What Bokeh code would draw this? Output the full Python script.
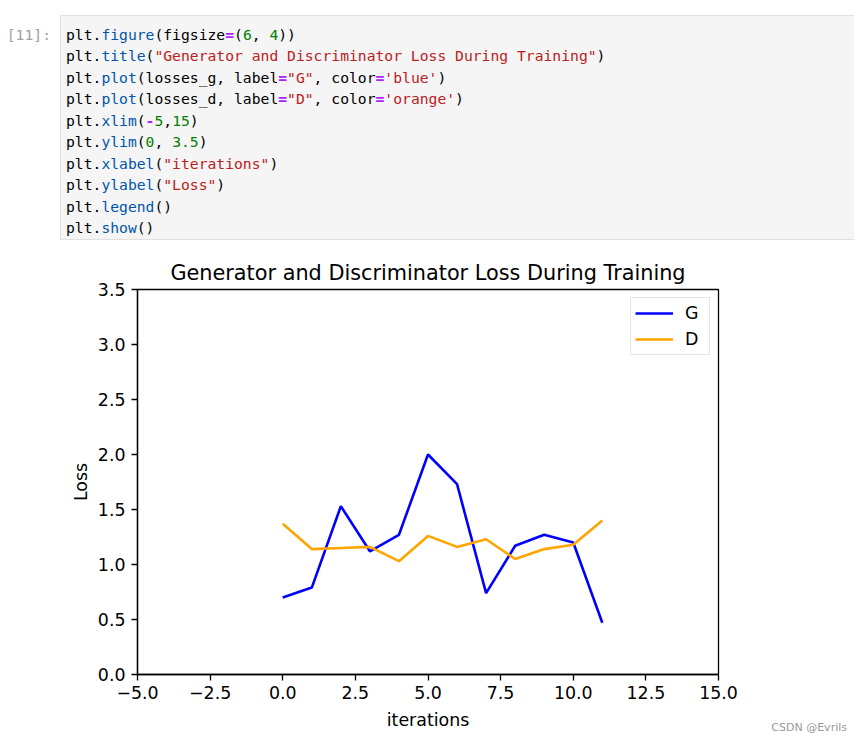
import re
import html
from bokeh.plotting import figure
from bokeh.models import Range1d, FixedTicker, Legend, LegendItem, Div
from bokeh.layouts import column
from bokeh.embed import file_html
from bokeh.resources import INLINE

# ---------------- data ----------------
iterations = [0, 1, 2, 3, 4, 5, 6, 7, 8, 9, 10, 11]
losses_g = [0.70, 0.79, 1.53, 1.12, 1.27, 2.00, 1.73, 0.74, 1.17, 1.27, 1.20, 0.47]
losses_d = [1.37, 1.14, 1.15, 1.16, 1.03, 1.26, 1.16, 1.23, 1.05, 1.14, 1.18, 1.40]

x_ticks = [-5.0, -2.5, 0.0, 2.5, 5.0, 7.5, 10.0, 12.5, 15.0]
x_tick_labels = ["\u22125.0", "\u22122.5", "0.0", "2.5", "5.0", "7.5", "10.0", "12.5", "15.0"]
y_ticks = [0.0, 0.5, 1.0, 1.5, 2.0, 2.5, 3.0, 3.5]
y_tick_labels = ["0.0", "0.5", "1.0", "1.5", "2.0", "2.5", "3.0", "3.5"]

code_lines = [
    'plt.figure(figsize=(6, 4))',
    'plt.title("Generator and Discriminator Loss During Training")',
    'plt.plot(losses_g, label="G", color=\'blue\')',
    'plt.plot(losses_d, label="D", color=\'orange\')',
    'plt.xlim(-5,15)',
    'plt.ylim(0, 3.5)',
    'plt.xlabel("iterations")',
    'plt.ylabel("Loss")',
    'plt.legend()',
    'plt.show()',
]
prompt = "[11]:"
title_text = "Generator and Discriminator Loss During Training"
watermark = "CSDN @Evrils"

W = 854
TOP_H = 250
BOT_H = 483
MONO = "DejaVu Sans Mono"
SANS = "DejaVu Sans"
LINE_H = 21.45

# ---------------- code cell (HTML) ----------------
tok_re = re.compile(r'"[^"]*"|\'[^\']*\'|\d+(?:\.\d+)?|[A-Za-z_]\w*|[=\-]|.')


def token_style(tok, prev):
    if tok[0] in "\"'":
        return "color:#ba2121"
    if tok[0].isdigit():
        return "color:#008000"
    if tok in ("=", "-"):
        return "color:#aa22ff;font-weight:bold"
    if (tok[0].isalpha() or tok[0] == "_") and prev == ".":
        return "color:#0055aa"
    return "color:#000000"


line_divs = []
for i, line in enumerate(code_lines):
    prev = ""
    groups = []  # merge consecutive tokens with same style
    for m in tok_re.finditer(line):
        tok = m.group(0)
        st = token_style(tok, prev)
        if tok == " " and groups:
            st = groups[-1][0]
        if groups and groups[-1][0] == st:
            groups[-1][1] += tok
        else:
            groups.append([st, tok])
        if tok != " ":
            prev = tok
    spans = "".join('<span style="%s">%s</span>' % (st, html.escape(t, quote=False))
                    for st, t in groups)
    line_divs.append('<div style="position:absolute;left:0px;top:%.2fpx;white-space:pre;'
                     'height:%.2fpx;">%s</div>' % (i * LINE_H, LINE_H, spans))

font_css = "font-family:'%s';font-size:14.7px;line-height:%.2fpx;" % (MONO, LINE_H)
cell_html = (
    '<div style="position:relative;width:%dpx;height:%dpx;">' % (W, TOP_H)
    + '<div style="position:absolute;left:60px;top:15px;width:%dpx;height:225px;'
      'background:#f5f5f5;border:1px solid #e0e0e0;border-right:none;"></div>' % (W - 60)
    + '<div style="position:absolute;left:0px;top:24px;width:51px;text-align:right;'
      'white-space:pre;color:#a0a0a0;%s">%s</div>' % (font_css, html.escape(prompt))
    + '<div style="position:absolute;left:66px;top:24px;width:700px;height:%dpx;%s">%s</div>'
      % (int(len(code_lines) * LINE_H) + 2, font_css, "".join(line_divs))
    + '</div>'
)
top = Div(text=cell_html, width=W, height=TOP_H, margin=(0, 0, 0, 0))

# ---------------- chart ----------------
p = figure(width=W, height=BOT_H, output_backend="svg", toolbar_location=None,
           x_range=Range1d(-5, 15), y_range=Range1d(0, 3.5),
           min_border_left=137, min_border_right=W - 718, min_border_top=39,
           min_border_bottom=59, title=title_text, margin=(0, 0, 0, 0))
p.grid.visible = False
p.outline_line_color = "black"
p.outline_line_width = 1.3

p.title.align = "center"
p.title.text_font = SANS
p.title.text_font_size = "20.8px"
p.title.text_font_style = "normal"
p.title.text_color = "#000000"
p.title.standoff = 10

for ax, ticks, labels in ((p.xaxis[0], x_ticks, x_tick_labels), (p.yaxis[0], y_ticks, y_tick_labels)):
    ax.ticker = FixedTicker(ticks=ticks)
    ax.major_label_overrides = {t: l for t, l in zip(ticks, labels)}
    ax.major_label_text_font = SANS
    ax.major_label_text_font_size = "17.4px"
    ax.major_label_text_color = "#000000"
    ax.axis_label_text_font = SANS
    ax.axis_label_text_font_size = "17.4px"
    ax.axis_label_text_font_style = "normal"
    ax.axis_label_text_color = "#000000"
    ax.axis_line_color = "black"
    ax.axis_line_width = 1.3
    ax.major_tick_line_color = "black"
    ax.major_tick_line_width = 1.3
    ax.major_tick_out = 6
    ax.major_tick_in = 0
    ax.minor_tick_line_color = None

p.xaxis.axis_label = "iterations"
p.yaxis.axis_label = "Loss"
p.xaxis.major_label_standoff = 5
p.yaxis.major_label_standoff = 6
p.xaxis.axis_label_standoff = 8
p.yaxis.axis_label_standoff = 4

rg = p.line(iterations, losses_g, line_color="blue", line_width=2.6)
rd = p.line(iterations, losses_d, line_color="orange", line_width=2.6)

legend = Legend(items=[LegendItem(label="G", renderers=[rg]), LegendItem(label="D", renderers=[rd])],
                location="top_right", margin=8, padding=4, spacing=4,
                label_height=22, glyph_height=22, glyph_width=38, label_standoff=12,
                label_text_font=SANS, label_text_font_size="17.4px", label_text_color="#000000",
                border_line_color="#cccccc", border_line_width=1,
                background_fill_alpha=0.8)
p.add_layout(legend)

wm = Div(text='<div style="width:%dpx;text-align:right;font-family:\'%s\';font-size:11px;'
              'line-height:14px;color:#999999;">%s</div>' % (847, SANS, html.escape(watermark)),
         width=W, height=14, margin=(-14, 0, 0, 0))

layout = column(top, p, wm, spacing=0)
open("out.html", "w").write(file_html(layout, INLINE))
